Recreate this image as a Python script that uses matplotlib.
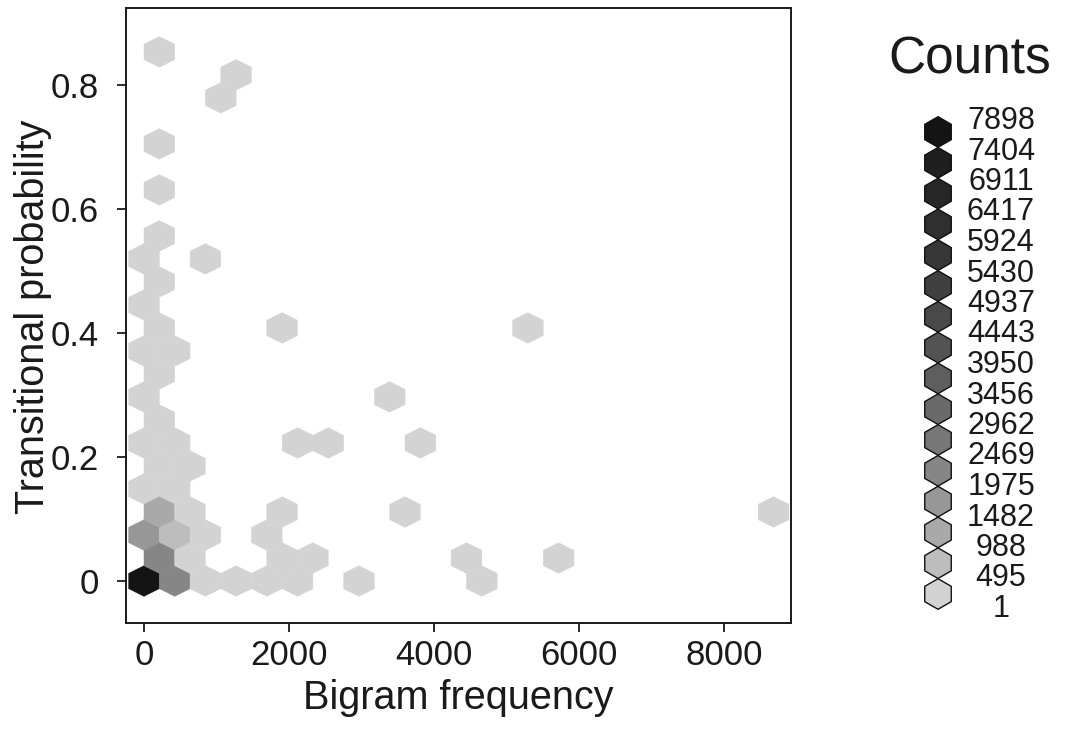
import numpy as np
import matplotlib
matplotlib.use("Agg")
import matplotlib.pyplot as plt
from matplotlib.colors import ListedColormap, BoundaryNorm
from matplotlib.patches import RegularPolygon

plt.rcParams["font.family"] = ["Liberation Sans", "DejaVu Sans"]

# Hexagon lattice: cell width along x, double row step along y (data units)
HEX_W = 423.6
HEX_H = 0.0742

# Bin centres (bigram frequency, transitional probability) and their counts
freq = [0, 424, 847, 1271, 1694, 2118, 2965, 4660,
        212, 635, 1906, 2330, 4448, 5719,
        0, 424, 847, 1694,
        212, 635, 1906, 3601, 8684,
        0, 424,
        212, 635,
        0, 424, 2118, 2542, 3812,
        212,
        0, 3389,
        212,
        0, 424,
        212, 1906, 5295,
        0,
        212,
        0, 847,
        212,
        212,
        212,
        1059,
        1271,
        212]
prob = [0.0, 0.0, 0.0, 0.0, 0.0, 0.0, 0.0, 0.0,
        0.037, 0.037, 0.037, 0.037, 0.037, 0.037,
        0.074, 0.074, 0.074, 0.074,
        0.111, 0.111, 0.111, 0.111, 0.111,
        0.148, 0.148,
        0.186, 0.186,
        0.223, 0.223, 0.223, 0.223, 0.223,
        0.260,
        0.297, 0.297,
        0.334,
        0.371, 0.371,
        0.408, 0.408, 0.408,
        0.445,
        0.482,
        0.519, 0.519,
        0.557,
        0.631,
        0.705,
        0.779,
        0.816,
        0.853]
counts = [7898, 1990, 310, 120, 45, 22, 3, 2,
          2000, 430, 14, 6, 2, 1,
          1700, 800, 180, 9,
          1200, 260, 5, 1, 1,
          410, 350,
          380, 90,
          300, 160, 2, 1, 1,
          240,
          190, 1,
          150,
          130, 35,
          95, 2, 1,
          60,
          48,
          30, 1,
          25,
          12,
          8,
          1,
          1,
          4]

# Colour scale breaks and grey ramp (light to dark)
legend_breaks = [1, 495, 988, 1482, 1975, 2469, 2962, 3456, 3950,
                 4443, 4937, 5430, 5924, 6417, 6911, 7404, 7898]
grey_ramp = ["#D3D3D3", "#BDBDBD", "#A9A9A9", "#979797", "#868686", "#777777",
             "#6A6A6A", "#5E5E5E", "#535353", "#494949", "#404040", "#373737",
             "#2F2F2F", "#272727", "#1F1F1F", "#141414"]

x_ticks = [0, 2000, 4000, 6000, 8000]
y_ticks = [0, 0.2, 0.4, 0.6, 0.8]
y_tick_labels = ["0", "0.2", "0.4", "0.6", "0.8"]

W, H = 1069, 747
fig = plt.figure(figsize=(W / 100, H / 100), dpi=100)
fig.patch.set_facecolor("white")

ax = fig.add_axes([126 / W, 1 - 623 / H, (791 - 126) / W, (623 - 8) / H])

cmap = ListedColormap(grey_ramp)
cmap.set_over(grey_ramp[-1])
norm = BoundaryNorm(legend_breaks, cmap.N)

nx, ny = 21, 12
ax.hexbin(freq, prob, C=counts, reduce_C_function=np.sum,
          gridsize=(nx, ny), extent=(0, nx * HEX_W, 0, ny * HEX_H),
          cmap=cmap, norm=norm, edgecolors="face", linewidths=0.3)

ax.set_xlim(-248, 8924)
ax.set_ylim(-0.0677, 0.924)

ax.set_xticks(x_ticks)
ax.set_xticklabels([str(v) for v in x_ticks])
ax.set_yticks(y_ticks)
ax.set_yticklabels(y_tick_labels)

for sp in ax.spines.values():
    sp.set_linewidth(1.4)
    sp.set_color("#1a1a1a")
ax.tick_params(axis="both", direction="out", length=6.5, width=1.3,
               color="#1a1a1a", labelsize=25, labelcolor="#1a1a1a")
ax.tick_params(axis="x", pad=5)
ax.tick_params(axis="y", pad=13)

fig.text(458 / W, 1 - 698 / H, "Bigram frequency", fontsize=28.5,
         ha="center", va="center", color="#1a1a1a")
fig.text(33 / W, 1 - 317 / H, "Transitional probability", fontsize=28.5,
         rotation=90, ha="center", va="center", color="#1a1a1a")

# Colour legend drawn in pixel coordinates
lax = fig.add_axes([0, 0, 1, 1], facecolor="none")
lax.set_xlim(0, W)
lax.set_ylim(H, 0)
lax.axis("off")

lax.text(970, 60, "Counts", fontsize=37, ha="center", va="center",
         color="#1a1a1a")

n_lev = len(grey_ramp)
label_top, label_step = 121, 30.5
hex_top, hex_step = 132, 30.8
for i in range(n_lev):
    colour = grey_ramp[n_lev - 1 - i]
    lax.add_patch(RegularPolygon((938, hex_top + hex_step * i), numVertices=6,
                                 radius=15.3, orientation=0,
                                 facecolor=colour, edgecolor="#111111",
                                 linewidth=1.0))
for j, lab in enumerate(reversed(legend_breaks)):
    lax.text(1001, label_top + label_step * j, str(lab), fontsize=22,
             ha="center", va="center", color="#1a1a1a")

fig.savefig("out.png", dpi=100)
